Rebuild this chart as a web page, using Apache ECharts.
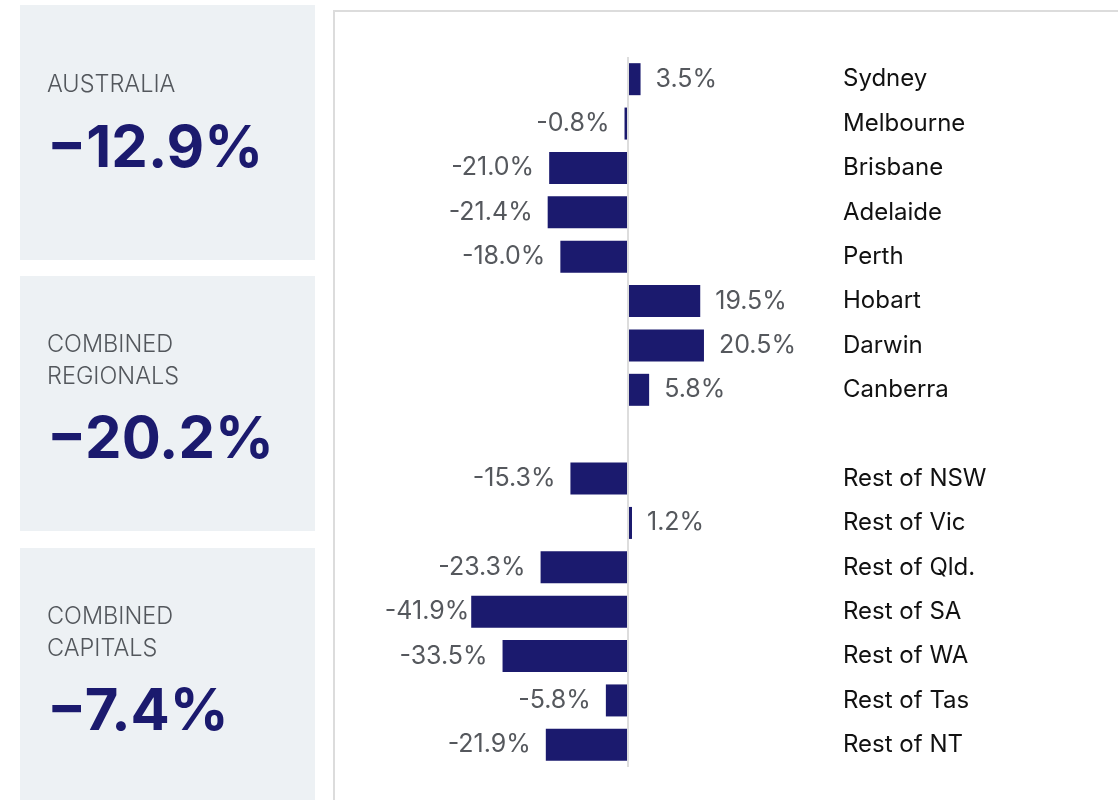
<!DOCTYPE html>
<html>
<head>
<meta charset="utf-8">
<script src="https://cdn.jsdelivr.net/npm/echarts@6/dist/echarts.min.js"></script>
<style>
  html, body { margin: 0; padding: 0; background: #fff; }
  #chart { width: 1118px; height: 800px; }
</style>
</head>
<body>
<div id="chart"></div>
<script>
var regions = ['Sydney', 'Melbourne', 'Brisbane', 'Adelaide', 'Perth', 'Hobart', 'Darwin', 'Canberra', '',
	'Rest of NSW', 'Rest of Vic', 'Rest of Qld.', 'Rest of SA', 'Rest of WA', 'Rest of Tas', 'Rest of NT'];
var changes = [3.5, -0.8, -21.0, -21.4, -18.0, 19.5, 20.5, 5.8, null,
	-15.3, 1.2, -23.3, -41.9, -33.5, -5.8, -21.9];

var panelTitles = [['AUSTRALIA'], ['COMBINED', 'REGIONALS'], ['COMBINED', 'CAPITALS']];
var panelValues = ['−12.9%', '−20.2%', '−7.4%'];

var navy = '#1b1a6e';
var font = 'Inter, "Noto Sans", sans-serif';

var chart = echarts.init(document.getElementById('chart'));

// left side summary boxes
var panelBoxes = [{ y: 5, h: 255 }, { y: 276, h: 255 }, { y: 548, h: 260 }];
var titleY = [[85], [345, 377], [617, 649]];
var valueY = [150, 441, 713];
var graphics = [];
for (var i = 0; i < panelBoxes.length; i++) {
	graphics.push({
		type: 'rect', left: 20, top: panelBoxes[i].y, z: -10,
		shape: { width: 295, height: panelBoxes[i].h },
		style: { fill: '#edf1f4' }
	});
	for (var j = 0; j < panelTitles[i].length; j++) {
		graphics.push({
			type: 'text', x: 47, y: titleY[i][j],
			style: { text: panelTitles[i][j], fill: '#53575c', font: '300 23.5px ' + font, textVerticalAlign: 'middle' }
		});
	}
	graphics.push({
		type: 'text', x: 47, y: valueY[i],
		style: { text: panelValues[i], fill: navy, font: 'bold 58px ' + font, textVerticalAlign: 'middle' }
	});
}
// chart frame
graphics.push({
	type: 'rect', left: 333, top: 10, z: -10,
	shape: { width: 900, height: 900 },
	style: { fill: '#fff', stroke: '#dcdcdc', lineWidth: 2 }
});

var option = {
	animation: false,
	graphic: graphics,
	grid: { left: 441, width: 373, top: 57, height: 710 },
	xAxis: {
		type: 'value', min: -50, max: 50, show: false
	},
	yAxis: {
		type: 'category',
		data: regions,
		inverse: true,
		position: 'right',
		axisLine: { show: false },
		axisTick: { show: false },
		axisLabel: { align: 'left', margin: 29, color: '#111', fontSize: 24, fontFamily: font }
	},
	series: [{
		type: 'bar',
		data: changes,
		barWidth: 32,
		itemStyle: { color: navy },
		label: {
			show: true,
			distance: 15,
			color: '#55585d',
			fontSize: 25,
			fontFamily: font,
			position: 'right',
			formatter: function (p) { return p.value.toFixed(1) + '%'; }
		},
		markLine: {
			silent: true,
			symbol: 'none',
			label: { show: false },
			lineStyle: { color: '#dddddd', width: 2, type: 'solid' },
			data: [{ xAxis: 0 }]
		}
	}]
};

// negative bars get their label on the left; the longest bar's label sits close to it
option.series[0].data = changes.map(function (v) {
	if (v === null) return null;
	var item = { value: v, label: { position: v < 0 ? 'left' : 'right' } };
	if (v < -40) item.label.distance = 2;
	return item;
});

chart.setOption(option);
</script>
</body>
</html>
